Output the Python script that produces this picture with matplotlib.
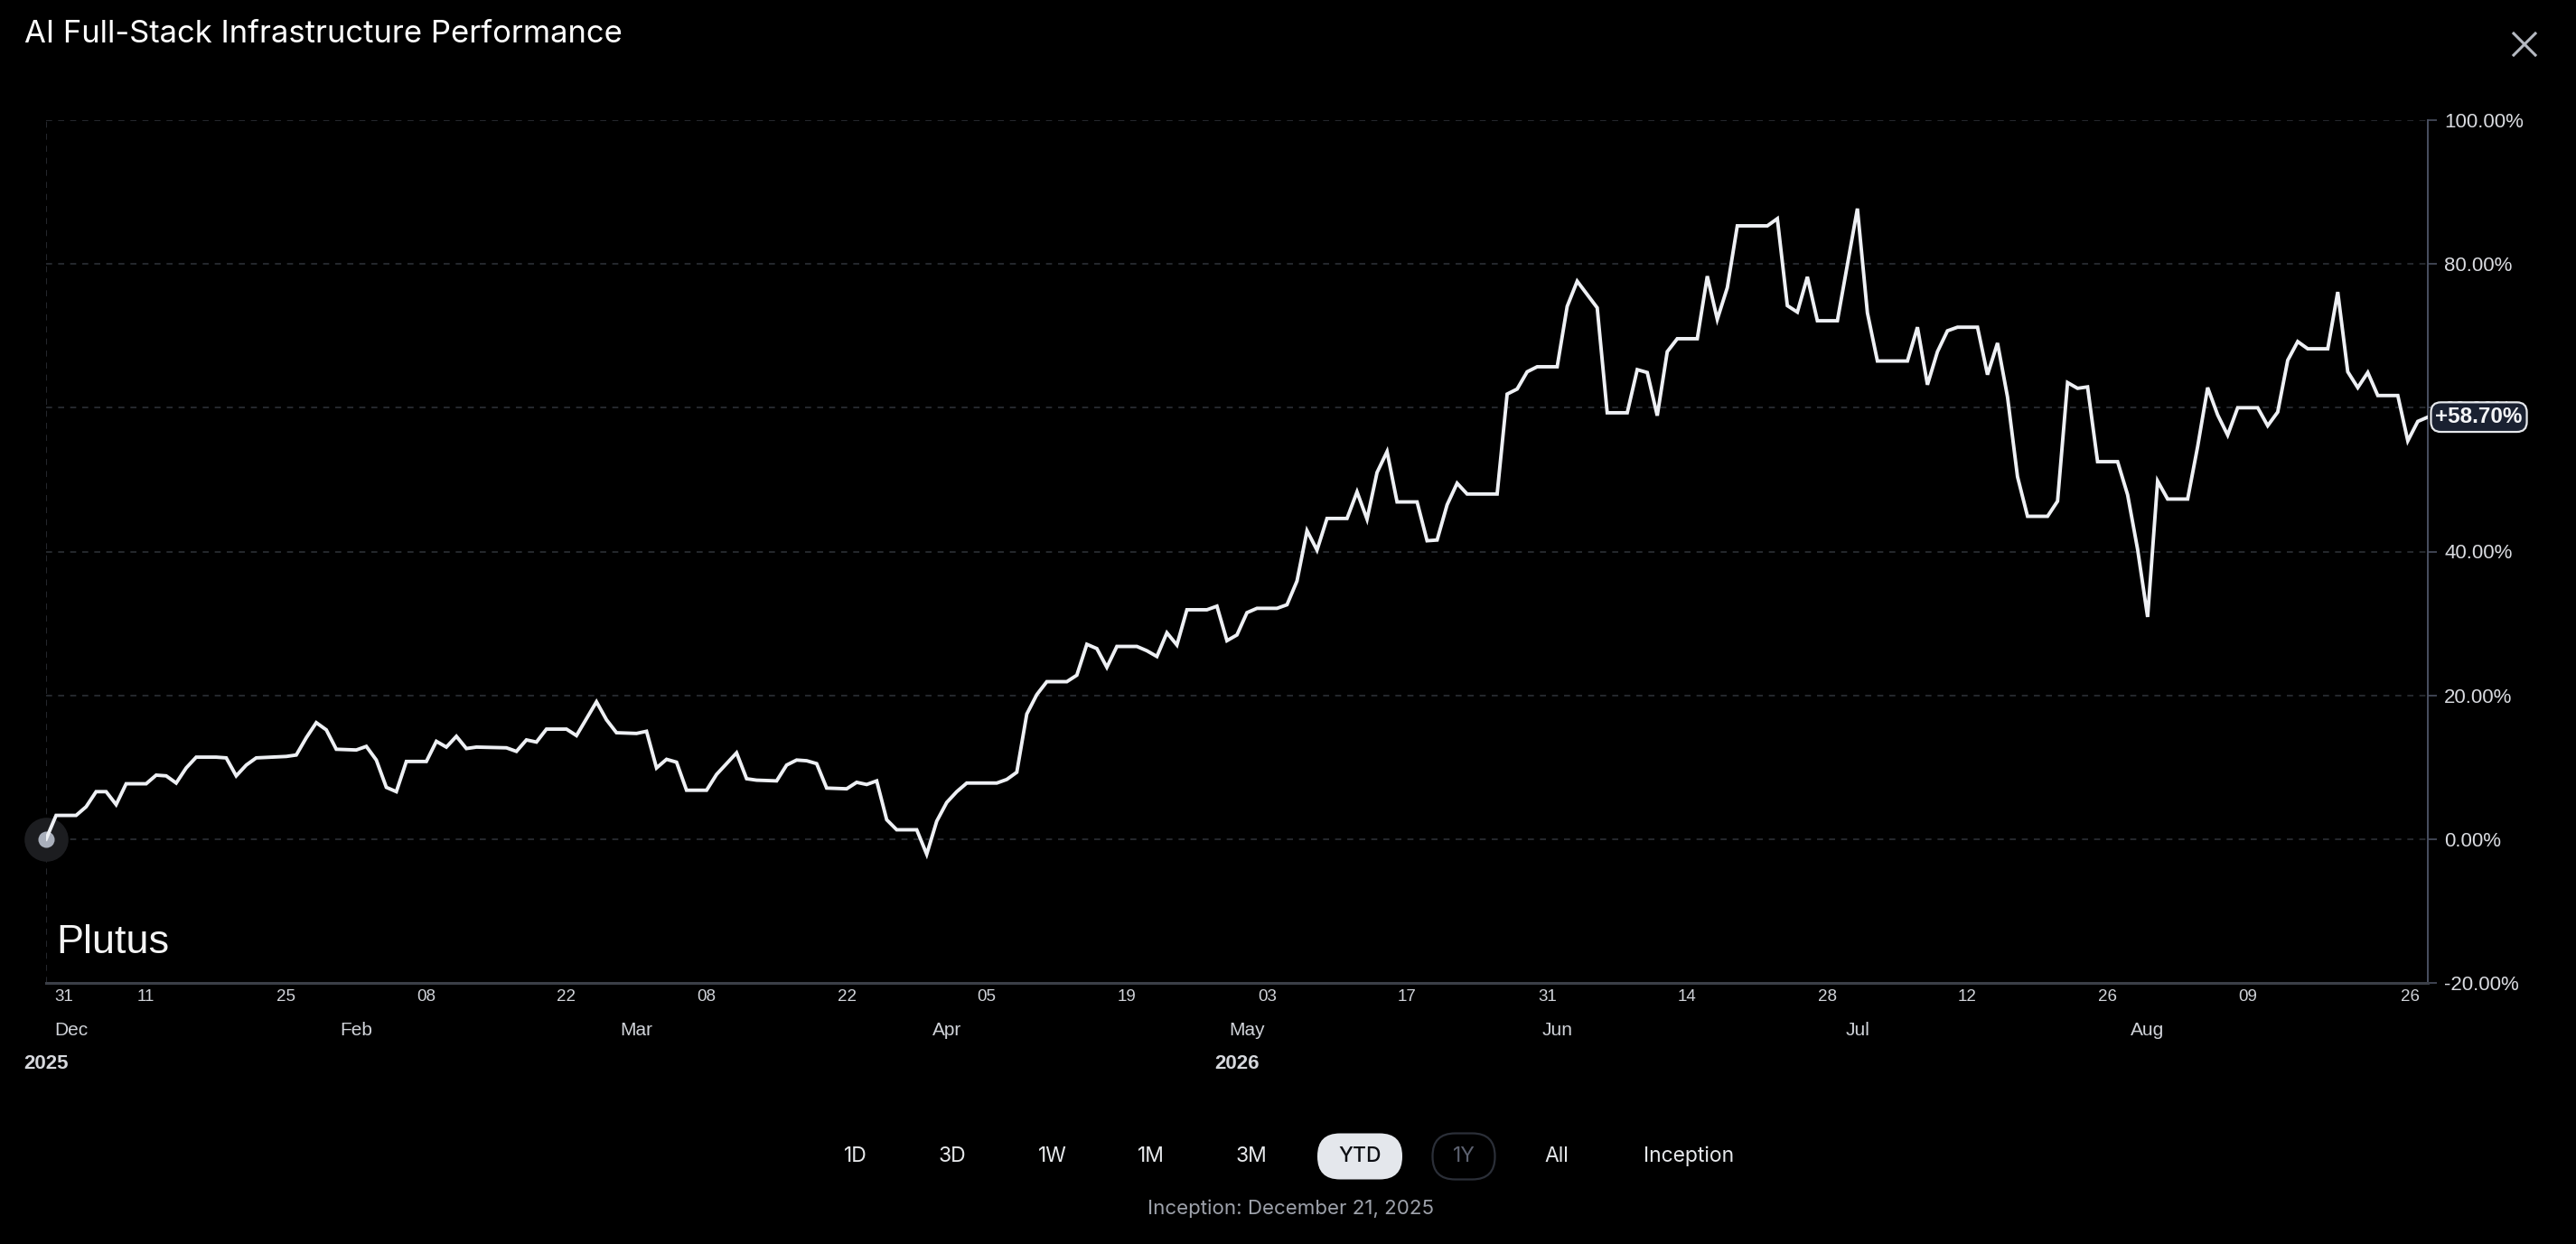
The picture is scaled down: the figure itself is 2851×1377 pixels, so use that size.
import numpy as np
import matplotlib
matplotlib.use('Agg')
import matplotlib.pyplot as plt
import matplotlib.transforms as mtransforms
from matplotlib.patches import FancyBboxPatch
from matplotlib.lines import Line2D
from matplotlib import font_manager

# ---------------- data ----------------
start_date = '2026-01-01'
day_offsets = [0, 1, 3, 4, 5, 6, 7, 8, 10, 11, 12, 13, 14, 15, 17, 18, 19, 20, 21, 24,
               25, 26, 27, 28, 29, 31, 32, 33, 34, 35, 36, 38, 39, 40, 41, 42, 43, 46, 47, 48,
               49, 50, 52, 53, 55, 56, 57, 59, 60, 61, 62, 63, 64, 66, 67, 69, 70, 71, 73, 74,
               75, 76, 77, 78, 80, 81, 82, 83, 84, 85, 87, 88, 89, 90, 91, 92, 95, 96, 97, 98,
               99, 100, 102, 103, 104, 105, 106, 107, 109, 110, 111, 112, 113, 114, 116, 117, 118, 119, 120, 121,
               123, 124, 125, 126, 127, 128, 130, 131, 132, 133, 134, 135, 137, 138, 139, 140, 141, 142, 145, 146,
               147, 148, 149, 151, 152, 153, 155, 156, 158, 159, 160, 161, 162, 163, 165, 166, 167, 168, 169, 172,
               173, 174, 175, 176, 177, 179, 181, 182, 183, 186, 187, 188, 189, 190, 191, 193, 194, 195, 196, 197,
               198, 200, 201, 202, 203, 204, 205, 207, 208, 209, 210, 211, 212, 214, 215, 216, 217, 218, 219, 221,
               222, 223, 224, 225, 226, 228, 229, 230, 231, 232, 233, 235, 236, 237, 238]
returns_pct = [0.0, 3.3, 3.3, 4.5, 6.6, 6.6, 4.8, 7.7, 7.7, 8.9, 8.8, 7.8, 9.9, 11.4, 11.4, 11.3, 8.8, 10.3, 11.3, 11.5,
               11.7, 14.1, 16.2, 15.2, 12.5, 12.4, 12.9, 11.0, 7.2, 6.6, 10.8, 10.8, 13.6, 12.8, 14.3, 12.6, 12.8, 12.7, 12.2, 13.8,
               13.5, 15.3, 15.3, 14.4, 19.1, 16.6, 14.8, 14.7, 15.0, 9.9, 11.1, 10.7, 6.8, 6.8, 9.0, 12.0, 8.4, 8.2, 8.1, 10.3,
               11.0, 10.9, 10.5, 7.1, 7.0, 7.9, 7.6, 8.1, 2.7, 1.3, 1.3, -2.1, 2.5, 5.1, 6.6, 7.8, 7.8, 8.3, 9.3, 17.4,
               20.1, 21.9, 21.9, 22.8, 27.1, 26.5, 23.9, 26.8, 26.8, 26.2, 25.4, 28.7, 27.0, 31.9, 31.9, 32.4, 27.6, 28.4, 31.5, 32.1,
               32.1, 32.6, 35.9, 42.9, 40.2, 44.6, 44.6, 48.3, 44.5, 51.0, 53.9, 46.9, 46.9, 41.5, 41.6, 46.5, 49.5, 48.0, 48.0, 61.9,
               62.6, 65.0, 65.7, 65.7, 74.1, 77.6, 73.9, 59.3, 59.3, 65.3, 64.9, 58.9, 67.8, 69.6, 69.6, 78.3, 72.3, 76.7, 85.3, 85.3,
               86.3, 74.2, 73.3, 78.2, 72.1, 72.1, 87.7, 73.2, 66.5, 66.5, 71.2, 63.2, 67.8, 70.7, 71.2, 71.2, 64.6, 69.0, 61.5, 50.4,
               44.9, 44.9, 47.0, 63.5, 62.7, 62.9, 52.5, 52.5, 47.9, 40.3, 30.9, 49.8, 47.3, 47.3, 54.6, 62.8, 59.0, 56.2, 60.0, 60.0,
               57.5, 59.4, 66.6, 69.2, 68.2, 68.2, 76.1, 65.0, 62.8, 64.9, 61.7, 61.7, 55.4, 58.1, 58.7]
current_label = '+58.70%'

y_ticks = [-20, 0, 20, 40, 60, 80, 100]
y_tick_labels = ['-20.00%', '0.00%', '20.00%', '40.00%', '60.00%', '80.00%', '100.00%']

day_tick_dates = ['2026-01-11', '2026-01-25', '2026-02-08', '2026-02-22', '2026-03-08', '2026-03-22',
                  '2026-04-05', '2026-04-19', '2026-05-03', '2026-05-17', '2026-05-31', '2026-06-14',
                  '2026-06-28', '2026-07-12', '2026-07-26', '2026-08-09']
day_tick_labels = ['11', '25', '08', '22', '08', '22', '05', '19', '03', '17', '31', '14', '28', '12', '26', '09']
first_day_label = '31'
last_day_label = '26'
month_dates = ['2026-02-01', '2026-03-01', '2026-04-01', '2026-05-01', '2026-06-01', '2026-07-01', '2026-07-30']
month_labels = ['Feb', 'Mar', 'Apr', 'May', 'Jun', 'Jul', 'Aug']
first_month_label = 'Dec'
year_labels = ['2025', '2026']
year2_date = '2026-04-30'

range_buttons = ['1D', '3D', '1W', '1M', '3M', 'YTD', '1Y', 'All', 'Inception']
active_button = 'YTD'
disabled_button = '1Y'
title = 'AI Full-Stack Infrastructure Performance'
inception_text = 'Inception: December 21, 2025'
logo_text = 'Plutus'

# ---------------- figure ----------------
W, H = 2851, 1377
DPI = 100
fig = plt.figure(figsize=(W / DPI, H / DPI), dpi=DPI, facecolor='black')

ax_l, ax_r, ax_t, ax_b = 51, 2687, 133, 1088
ax = fig.add_axes([ax_l / W, 1 - ax_b / H, (ax_r - ax_l) / W, (ax_b - ax_t) / H])
ax.set_facecolor('black')

dates = np.datetime64(start_date) + np.array(day_offsets).astype('timedelta64[D]')
x0, x1 = dates[0], dates[-1]

grid_col = '#2c2f35'
ax.set_ylim(-20, 100)
ax.set_xlim(x0, x1)
for v in y_ticks[1:]:
    ax.axhline(v, color=grid_col, lw=1.2, ls=(0, (4, 4)), zorder=1)
ax.axvline(x0, color=grid_col, lw=1.2, ls=(0, (4, 4)), zorder=1)

ax.plot(dates, returns_pct, color='#eef0f4', lw=2.8, zorder=5, solid_joinstyle='miter')

# starting dot
ax.plot([x0], [returns_pct[0]], 'o', ms=35, color='#1c1d20', mec='none', zorder=3, clip_on=False)
ax.plot([x0], [returns_pct[0]], 'o', ms=13, color='#a9afbb', mec='none', zorder=4, clip_on=False)

# spines / ticks
for s in ['top', 'left']:
    ax.spines[s].set_visible(False)
ax.spines['right'].set_color('#4a5061')
ax.spines['right'].set_linewidth(1.4)
ax.spines['bottom'].set_color('#3b3f48')
ax.spines['bottom'].set_linewidth(2.2)
ax.yaxis.tick_right()
ax.set_yticks(y_ticks)
ax.set_yticklabels(y_tick_labels)
ax.tick_params(axis='y', colors='#4a5061', length=7, width=1.2, pad=6,
               labelsize=16, labelcolor='#d9dbe0')
for lbl in ax.get_yticklabels():
    lbl.set_family(['Liberation Sans', 'DejaVu Sans'])
ax.set_xticks([])

tick_font = ['Liberation Sans', 'DejaVu Sans']
bt = mtransforms.blended_transform_factory(ax.transData, fig.transFigure)
for d, lab in zip(day_tick_dates, day_tick_labels):
    ax.text(np.datetime64(d), 1 - 1108 / H, lab, transform=bt, ha='center', va='baseline',
            fontsize=13.5, color='#d0d3d9', family=tick_font, clip_on=False)
ax.text(x0, 1 - 1108 / H, first_day_label, transform=bt + mtransforms.ScaledTranslation(9 / DPI, 0, fig.dpi_scale_trans),
        ha='left', va='baseline', fontsize=13.5, color='#d0d3d9', family=tick_font, clip_on=False)
ax.text(x1, 1 - 1108 / H, last_day_label, transform=bt + mtransforms.ScaledTranslation(-9 / DPI, 0, fig.dpi_scale_trans),
        ha='right', va='baseline', fontsize=13.5, color='#d0d3d9', family=tick_font, clip_on=False)
for d, lab in zip(month_dates, month_labels):
    ax.text(np.datetime64(d), 1 - 1146 / H, lab, transform=bt, ha='center', va='baseline',
            fontsize=15, color='#d0d3d9', family=tick_font, clip_on=False)
ax.text(x0, 1 - 1146 / H, first_month_label, transform=bt + mtransforms.ScaledTranslation(9 / DPI, 0, fig.dpi_scale_trans),
        ha='left', va='baseline', fontsize=15, color='#d0d3d9', family=tick_font, clip_on=False)
ax.text(x0, 1 - 1183 / H, year_labels[0], transform=bt, ha='center', va='baseline',
        fontsize=16, fontweight='bold', color='#d6d8dd', family=tick_font, clip_on=False)
ax.text(np.datetime64(year2_date), 1 - 1183 / H, year_labels[1], transform=bt, ha='center', va='baseline',
        fontsize=16, fontweight='bold', color='#d6d8dd', family=tick_font, clip_on=False)

# current value badge (sits over the 60.00% label, as in the original)
bt_y = mtransforms.blended_transform_factory(ax.transAxes, ax.transData)
ax.annotate(current_label, xy=(1.0, returns_pct[-1]), xycoords=bt_y, xytext=(6, 0),
            textcoords='offset points', ha='left', va='center', fontsize=17.5, fontweight='bold',
            color='#f4f5f7', family=tick_font, zorder=10, annotation_clip=False,
            bbox=dict(boxstyle='round,pad=0.2,rounding_size=0.45', fc='#1a2131', ec='#e6e8ec', lw=1.6))

# ---------------- texts outside ----------------
ui_font = ['Inter', 'DejaVu Sans']
t_title = fig.text(27 / W, 1 - 38 / H, title, ha='left', va='center', fontsize=22,
                   color='white', family=ui_font)

names = {f.name for f in font_manager.fontManager.ttflist}
if 'Liberation Sans Narrow' in names:
    logo_family = ['Liberation Sans Narrow', 'DejaVu Sans']
else:
    logo_family = ['Liberation Sans', 'DejaVu Sans']
t_logo = fig.text(62 / W, 1 - 1055 / H, logo_text, ha='left', va='baseline', fontsize=38,
                  color='#f4f4f4', family=logo_family)
t_inc = fig.text(1429 / W, 1 - 1338 / H, inception_text, ha='center', va='center', fontsize=14.5,
                 color='#9ea2ab', family=ui_font)

def fit_width(t, target):
    fig.canvas.draw()
    r = fig.canvas.get_renderer()
    w = t.get_window_extent(r).width
    t.set_fontsize(t.get_fontsize() * target / w)

fit_width(t_title, 664)
fit_width(t_logo, 125)
fit_width(t_inc, 316)

# close button
cx, cy, cs = 2794, 1377 - 49, 12
for dx in (1, -1):
    fig.add_artist(Line2D([cx - cs, cx + cs], [cy - dx * cs, cy + dx * cs], transform=mtransforms.IdentityTransform(),
                          color='#b5b9c1', lw=2.2))

# range buttons
btn_x = [947, 1054, 1165, 1274, 1385, 1505, 1620, 1723, 1869]
btn_y = 1280
pill_h = 51
for lab, bx in zip(range_buttons, btn_x):
    col = '#e6e8eb'
    weight = 'normal'
    if lab == active_button:
        w = 94
        fig.add_artist(FancyBboxPatch((bx - w / 2, H - btn_y - pill_h / 2), w, pill_h,
                                      boxstyle='round,pad=0,rounding_size=25', transform=mtransforms.IdentityTransform(),
                                      fc='#e4e7ec', ec='none'))
        col = '#0c0e13'
        weight = 'medium'
    elif lab == disabled_button:
        w = 69
        fig.add_artist(FancyBboxPatch((bx - w / 2, H - btn_y - pill_h / 2), w, pill_h,
                                      boxstyle='round,pad=0,rounding_size=25', transform=mtransforms.IdentityTransform(),
                                      fc='none', ec='#2b2f38', lw=1.6))
        col = '#5d6270'
    fig.text(bx / W, 1 - btn_y / H, lab, ha='center', va='center', fontsize=16.5, color=col,
             fontweight=weight, family=ui_font)

fig.savefig('out.png', dpi=DPI, facecolor='black')
